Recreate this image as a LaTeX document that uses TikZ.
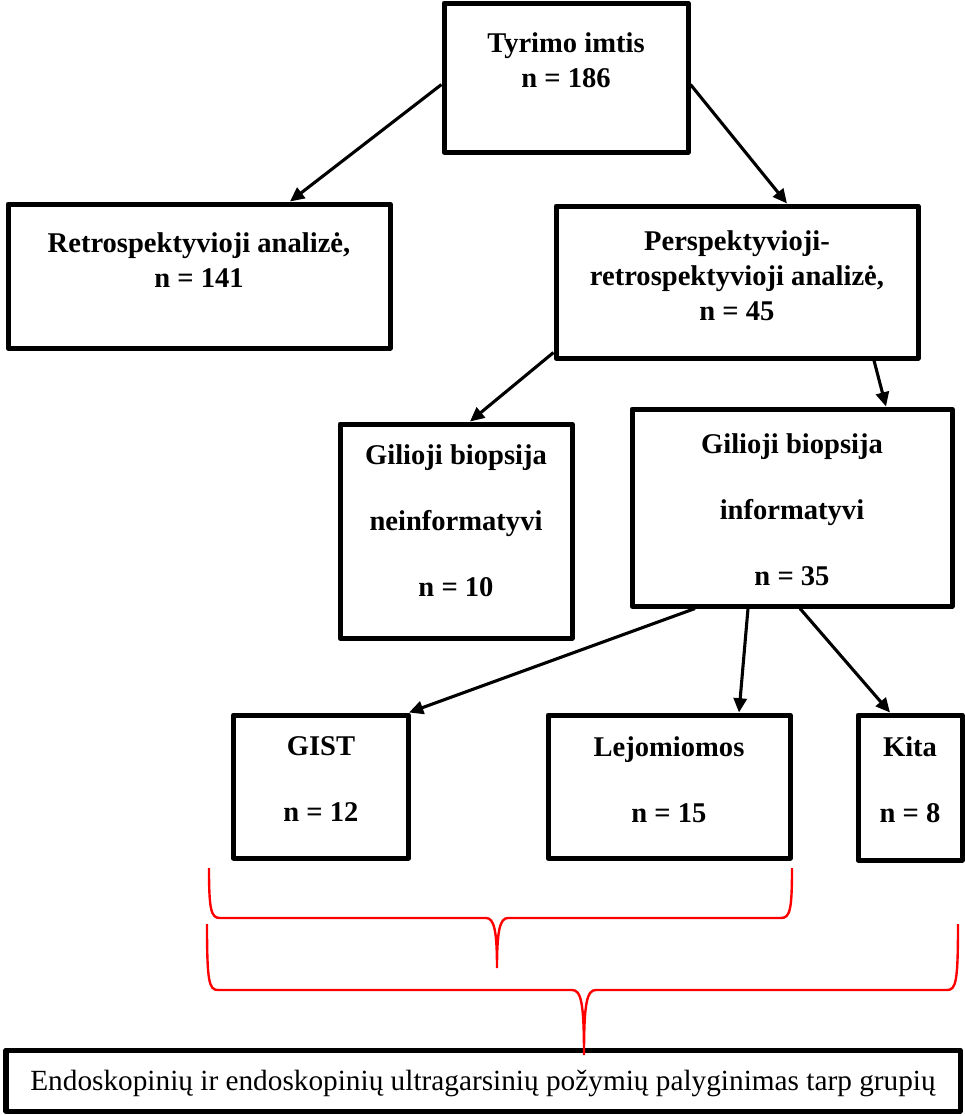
\documentclass[tikz,border=0pt]{standalone}
\usepackage{fontspec}
\setmainfont{Liberation Serif}
\usepackage{tikz}
\usetikzlibrary{arrows.meta, calc}

\newlength\unitpx
\setlength\unitpx{0.42pt}

\tikzset{
  box/.style={draw, line width=2.1pt, line join=round, inner sep=0pt},
  lbl/.style={align=center, inner sep=0pt, font=\bfseries\fontsize{12}{14.7}\selectfont},
  arr/.style={line width=1.3pt, -{Triangle[length=6pt, width=5.5pt]}},
  redbrace/.style={draw=red, line width=1pt}
}

\begin{document}
\begin{tikzpicture}[x=0.42pt, y=-0.42pt]
\useasboundingbox (0,0) rectangle (965,1116);

% boxes
\node[box, minimum width=244\unitpx, minimum height=149\unitpx] (tyrimo) at (566,77.5) {};
\node[box, minimum width=382\unitpx, minimum height=144\unitpx] (retro) at (199,276) {};
\node[box, minimum width=362\unitpx, minimum height=152\unitpx] (persp) at (737,282) {};
\node[box, minimum width=232\unitpx, minimum height=214\unitpx] (neinf) at (456,531) {};
\node[box, minimum width=320\unitpx, minimum height=197\unitpx] (inf) at (792,507.5) {};
\node[box, minimum width=175\unitpx, minimum height=143\unitpx] (gist) at (321,786.5) {};
\node[box, minimum width=242\unitpx, minimum height=143\unitpx] (lejo) at (669,786.5) {};
\node[box, minimum width=104\unitpx, minimum height=145\unitpx] (kita) at (910,787.5) {};
\node[box, minimum width=954\unitpx, minimum height=61\unitpx] (palyg) at (483,1080.5) {};

% texts
\node[lbl] (tyrimo-t) at ([yshift=-60\unitpx]tyrimo.north) {Tyrimo imtis\\n = 186};
\node[lbl] (retro-t) at ([yshift=-59\unitpx]retro.north) {Retrospektyvioji analizė,\\n = 141};
\node[lbl] (persp-t) at ([yshift=-72\unitpx]persp.north) {Perspektyvioji-\\retrospektyvioji analizė,\\n = 45};
\node[lbl] (neinf-t) at ([yshift=-99\unitpx]neinf.north) {Gilioji biopsija\\[13pt]neinformatyvi\\[13pt]n = 10};
\node[lbl] (inf-t) at ([yshift=-103\unitpx]inf.north) {Gilioji biopsija\\[13pt]informatyvi\\[13pt]n = 35};
\node[lbl] (gist-t) at ([yshift=-67\unitpx]gist.north) {GIST\\[13pt]n = 12};
\node[lbl] (lejo-t) at ([yshift=-67\unitpx]lejo.north) {Lejomiomos\\[13pt]n = 15};
\node[lbl] (kita-t) at ([yshift=-67\unitpx]kita.north) {Kita\\[13pt]n = 8};
\node[inner sep=0pt, font=\fontsize{12.3}{14.7}\selectfont] (palyg-t) at ([yshift=-3\unitpx]palyg.center)
  {Endoskopinių ir endoskopinių ultragarsinių požymių palyginimas tarp grupių};

% arrows
\draw[arr] ([yshift=-7\unitpx]tyrimo.west) -- ([xshift=91\unitpx]retro.north);
\draw[arr] ([yshift=-7\unitpx]tyrimo.east) -- ([xshift=50\unitpx]persp.north);
\draw[arr] ([yshift=8\unitpx]persp.south west) -- ([xshift=14\unitpx]neinf.north);
\draw[arr] ([xshift=137\unitpx]persp.south) -- ([xshift=94\unitpx]inf.north);
\draw[arr] ([xshift=-97\unitpx]inf.south) -- ([xshift=88\unitpx]gist.north);
\draw[arr] ([xshift=-44\unitpx]inf.south) -- ([xshift=70\unitpx]lejo.north);
\draw[arr] ([xshift=8\unitpx]inf.south) -- ([xshift=-20\unitpx]kita.north);

% braces
\coordinate (tip1) at (497,968);
\coordinate (tip2) at (584,1055);
\draw[redbrace] (209,868) .. controls (209,910) and (211,918) .. (220,918) -- (486,918)
  .. controls (494,918) and (497,930) .. (tip1)
  .. controls (497,930) and (500,918) .. (508,918) -- (781,918)
  .. controls (790,918) and (792,910) .. (792,868);
\draw[redbrace] (207,924) .. controls (207,982) and (209,990) .. (218,990) -- (572,990)
  .. controls (581,990) and (584,1002) .. (tip2)
  .. controls (584,1002) and (587,990) .. (596,990) -- (947,990)
  .. controls (956,990) and (958,982) .. (958,924);
\end{tikzpicture}
\end{document}
